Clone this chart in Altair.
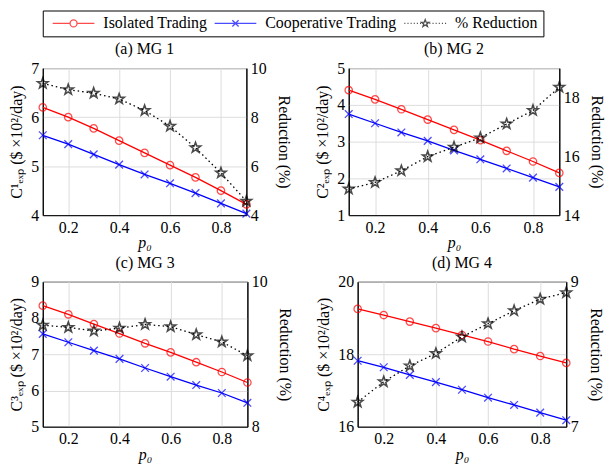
import altair as alt
import pandas as pd

p0 = [0.1, 0.2, 0.3, 0.4, 0.5, 0.6, 0.7, 0.8, 0.9]
series_names = ["Isolated Trading", "Cooperative Trading", "% Reduction"]

# MG 1
mg1_iso = [6.20, 6.00, 5.77, 5.52, 5.27, 5.02, 4.77, 4.50, 4.22]
mg1_coop = [5.63, 5.45, 5.24, 5.03, 4.83, 4.65, 4.45, 4.24, 4.03]
mg1_red = [9.38, 9.12, 8.98, 8.74, 8.27, 7.63, 6.75, 5.72, 4.57]
# MG 2
mg2_iso = [4.40, 4.15, 3.88, 3.60, 3.32, 3.04, 2.75, 2.46, 2.15]
mg2_coop = [3.75, 3.50, 3.25, 3.02, 2.76, 2.52, 2.27, 2.02, 1.77]
mg2_red = [14.89, 15.11, 15.51, 15.99, 16.31, 16.63, 17.10, 17.56, 18.35]
# MG 3
mg3_iso = [8.34, 8.10, 7.83, 7.57, 7.30, 7.05, 6.78, 6.51, 6.22]
mg3_coop = [7.56, 7.33, 7.10, 6.87, 6.62, 6.38, 6.15, 5.93, 5.66]
mg3_red = [9.40, 9.37, 9.32, 9.36, 9.41, 9.38, 9.27, 9.17, 8.98]
# MG 4
mg4_iso = [19.25, 19.08, 18.90, 18.72, 18.53, 18.35, 18.14, 17.95, 17.76]
mg4_coop = [17.82, 17.64, 17.43, 17.23, 17.02, 16.80, 16.60, 16.39, 16.18]
mg4_red = [7.34, 7.62, 7.84, 8.01, 8.24, 8.42, 8.60, 8.76, 8.85]

panels = [
    ("(a) MG 1", "1", mg1_iso, mg1_coop, mg1_red, [4, 7], [4, 5, 6, 7], [4, 10], [4, 6, 8, 10], 205, 148),
    ("(b) MG 2", "2", mg2_iso, mg2_coop, mg2_red, [1, 5], [1, 2, 3, 4, 5], [14, 19], [14, 16, 18], 212, 148),
    ("(c) MG 3", "3", mg3_iso, mg3_coop, mg3_red, [5, 9], [5, 6, 7, 8, 9], [8, 10], [8, 9, 10], 206, 146),
    ("(d) MG 4", "4", mg4_iso, mg4_coop, mg4_red, [16, 20], [16, 18, 20], [7, 9], [7, 8, 9], 210, 146),
]

FONT = "Liberation Serif, Times New Roman, serif"
STAR = ("M0,-1L0.235,-0.324L0.951,-0.309L0.380,0.124L0.588,0.809L0,0.4"
        "L-0.588,0.809L-0.380,0.124L-0.951,-0.309L-0.235,-0.324Z")
XMARK = "M-1,-1L1,1M-1,1L1,-1"
CIRCLE = "circle"

# legend symbols: line + marker (in symbol units)
L = 6.0
leg_circle = f"M{-L},0L-1,0M1,0L{L},0M-1,0A1,1 0 1,0 1,0A1,1 0 1,0 -1,0"
leg_x = f"M{-L},0L{L},0M-0.9,-0.9L0.9,0.9M-0.9,0.9L0.9,-0.9"
dots = ""
x = -L
while x < -1.1:
    dots += f"M{x:.2f},0L{x + 0.3:.2f},0"
    x += 0.9
x = 1.2
while x < L:
    dots += f"M{x:.2f},0L{x + 0.3:.2f},0"
    x += 0.9
leg_star = dots + ("M0,-1.1L0.26,-0.36L1.05,-0.34L0.42,0.14L0.65,0.89L0,0.44"
                   "L-0.65,0.89L-0.42,0.14L-1.05,-0.34L-0.26,-0.36Z")

color_scale = alt.Scale(domain=series_names, range=["#ff0000", "#0000ff", "#000000"])
legend_shape_scale = alt.Scale(domain=series_names, range=[leg_circle, leg_x, leg_star])

legend = alt.Legend(title=None, orient="none", legendX=0, legendY=0,
                    direction="horizontal", strokeColor="black",
                    padding=5, labelFont=FONT, labelFontSize=16, labelColor="black",
                    symbolSize=49, symbolStrokeWidth=1.3, symbolOffset=18,
                    labelOffset=22, columnPadding=2)

sup = {"1": "¹", "2": "²", "3": "³", "4": "⁴"}
styles = {
    "Isolated Trading": ("#ff0000", CIRCLE, 55, None),
    "Cooperative Trading": ("#0000ff", XMARK, 60, None),
    "% Reduction": ("#000000", STAR, 120, [1.5, 3]),
}


def make_panel(title, k, iso, coop, red, ldom, lticks, rdom, rticks, w, h):
    rows = []
    for s, vals in zip(series_names, [iso, coop, red]):
        for xv, v in zip(p0, vals):
            rows.append({"p0": xv, "value": v, "series": s})
    df = pd.DataFrame(rows)
    base = alt.Chart(df)
    xenc = alt.X("p0:Q", scale=alt.Scale(domain=[0.1, 0.9], nice=False),
                 axis=alt.Axis(values=[0.2, 0.4, 0.6, 0.8], format=".1f", title="p₀",
                               grid=True, titleFontStyle="italic"))
    yl = alt.Y("value:Q", scale=alt.Scale(domain=ldom, nice=False, zero=False),
               axis=alt.Axis(values=lticks, format="d",
                             title=f"C{sup[k]}ₑₓₚ ($ ×10²/day)", grid=True, titlePadding=6))
    yr = alt.Y("value:Q", scale=alt.Scale(domain=rdom, nice=False, zero=False),
               axis=alt.Axis(values=rticks, format="d", title="Reduction (%)",
                             orient="right", grid=False, titlePadding=9))
    left_layers = []
    right_layers = []
    for s in series_names:
        c, shp, size, dash = styles[s]
        sub = base.transform_filter(alt.datum.series == s)
        yenc = yr if s == "% Reduction" else yl
        if dash:
            ln = sub.mark_line(color=c, strokeWidth=1.3, strokeDash=dash)
        else:
            ln = sub.mark_line(color=c, strokeWidth=1.3)
        pt = sub.mark_point(color=c, shape=shp, size=size, filled=False,
                            strokeWidth=1.6 if s == "% Reduction" else 1.3)
        lay = [ln.encode(x=xenc, y=yenc), pt.encode(x=xenc, y=yenc)]
        if s == "% Reduction":
            right_layers += lay
        else:
            left_layers += lay
    return alt.layer(alt.layer(*left_layers), alt.layer(*right_layers)).resolve_scale(
        y="independent").properties(
        width=w, height=h,
        title=alt.TitleParams(title, font=FONT, fontSize=16, fontWeight="normal", offset=3,
                              color="black"))


legend_df = pd.DataFrame({"series": series_names})
legend_chart = alt.Chart(legend_df).transform_filter("false").mark_point(filled=False).encode(
    color=alt.Color("series:N", scale=color_scale, legend=legend),
    shape=alt.Shape("series:N", scale=legend_shape_scale, legend=legend),
).properties(width=1, height=1,
             view=alt.ViewBackground(stroke="transparent", strokeWidth=0))

charts = [make_panel(*p) for p in panels]
grid = alt.vconcat(
    alt.hconcat(charts[0], charts[1], spacing=22),
    alt.hconcat(charts[2], charts[3], spacing=22),
    spacing=2,
)
chart = alt.vconcat(legend_chart, grid, spacing=29).configure_view(
    stroke="black", strokeWidth=1).configure_axis(
    labelFont=FONT, labelFontSize=16, titleFont=FONT, titleFontSize=16,
    titleFontWeight="normal", labelColor="black", titleColor="black",
    domainColor="black", ticks=False, gridColor="#dddddd", labelPadding=4,
    titlePadding=3
).configure_axisX(titlePadding=0).properties(padding=0)

chart.save("out.html", embed_options={"renderer": "svg", "actions": False})
